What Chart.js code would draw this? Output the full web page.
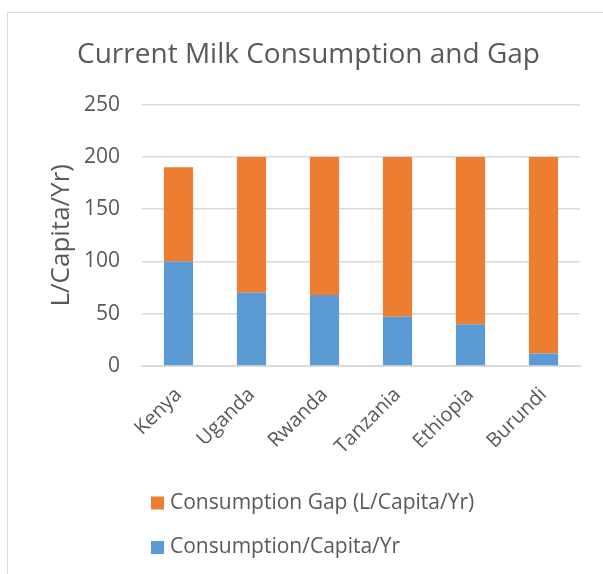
<!DOCTYPE html>
<html>
<head>
<meta charset="utf-8">
<title>Current Milk Consumption and Gap</title>
<script src="https://cdn.jsdelivr.net/npm/chart.js@4/dist/chart.umd.min.js"></script>
<style>
  html, body { margin: 0; padding: 0; background: #ffffff; }
  #wrap { width: 603px; height: 574px; position: relative; }
</style>
</head>
<body>
<div id="wrap"><canvas id="chart" width="603" height="574"></canvas></div>
<script>
// Countries along the x axis
const categories = ['Kenya', 'Uganda', 'Rwanda', 'Tanzania', 'Ethiopia', 'Burundi'];
// Current consumption, litres per capita per year
const consumption = [100, 70, 68, 47, 40, 12];
// Gap to the 200 L target (Kenya's total is 190)
const consumptionGap = [90, 130, 132, 153, 160, 188];
// Y axis range and step
const yMax = 250;
const yStep = 50;

const FONT = '"Open Sans", Lato, "Liberation Sans", sans-serif';
const TEXT = '#595959';
const GRID = '#d9d9d9';

// Frame around the chart
const framePlugin = {
  id: 'frame',
  beforeDraw(chart) {
    const ctx = chart.ctx;
    ctx.save();
    ctx.strokeStyle = GRID;
    ctx.lineWidth = 1;
    ctx.beginPath();
    ctx.moveTo(7.5, chart.height);
    ctx.lineTo(7.5, 12.5);
    ctx.lineTo(chart.width, 12.5);
    ctx.stroke();
    ctx.restore();
  }
};

// Legend stacked in two rows below the axis, top series first
const stackedLegend = {
  id: 'stackedLegend',
  afterDraw(chart, args, opts) {
    const ctx = chart.ctx;
    const items = chart.data.datasets.slice().reverse();
    ctx.save();
    ctx.font = opts.fontSize + 'px ' + FONT;
    ctx.textBaseline = 'middle';
    ctx.textAlign = 'left';
    items.forEach((ds, i) => {
      const y = opts.top + i * opts.rowGap;
      ctx.fillStyle = ds.backgroundColor;
      ctx.fillRect(opts.left, y - opts.box / 2, opts.box, opts.box);
      ctx.fillStyle = TEXT;
      ctx.fillText(ds.label, opts.left + opts.box + 6, y);
    });
    ctx.restore();
  }
};

new Chart(document.getElementById('chart'), {
  type: 'bar',
  data: {
    labels: categories,
    datasets: [
      {
        label: 'Consumption/Capita/Yr',
        data: consumption,
        backgroundColor: '#5B9BD5',
        stack: 'milk'
      },
      {
        label: 'Consumption Gap (L/Capita/Yr)',
        data: consumptionGap,
        backgroundColor: '#ED7D31',
        stack: 'milk'
      }
    ]
  },
  options: {
    responsive: false,
    animation: false,
    devicePixelRatio: 1,
    layout: { padding: { left: 37, right: 23, top: 0, bottom: 108 } },
    datasets: { bar: { categoryPercentage: 1, barPercentage: 0.4 } },
    plugins: {
      legend: { display: false },
      tooltip: { enabled: false },
      title: {
        display: true,
        text: 'Current Milk Consumption and Gap',
        color: TEXT,
        font: { family: FONT, size: 28, weight: 'normal' },
        padding: { top: 38, bottom: 33 }
      },
      stackedLegend: { left: 151, top: 503, rowGap: 44.5, box: 13, fontSize: 21 }
    },
    scales: {
      x: {
        stacked: true,
        grid: { display: false },
        border: { display: true, color: GRID, width: 2 },
        ticks: {
          color: TEXT,
          font: { family: FONT, size: 20 },
          minRotation: 45,
          maxRotation: 45,
          padding: 9
        },
        afterFit(scale) { scale.height = 100; }
      },
      y: {
        stacked: true,
        min: 0,
        max: yMax,
        ticks: {
          stepSize: yStep,
          color: TEXT,
          font: { family: FONT, size: 21 },
          padding: 22
        },
        grid: { color: GRID, lineWidth: 1.4, drawTicks: false },
        border: { display: false },
        title: {
          display: true,
          text: 'L/Capita/Yr)',
          color: TEXT,
          font: { family: FONT, size: 26, weight: 'normal' },
          padding: { top: 9, bottom: 0 }
        },
        afterFit(scale) { scale.width = 105; }
      }
    }
  },
  plugins: [framePlugin, stackedLegend]
});
</script>
</body>
</html>
